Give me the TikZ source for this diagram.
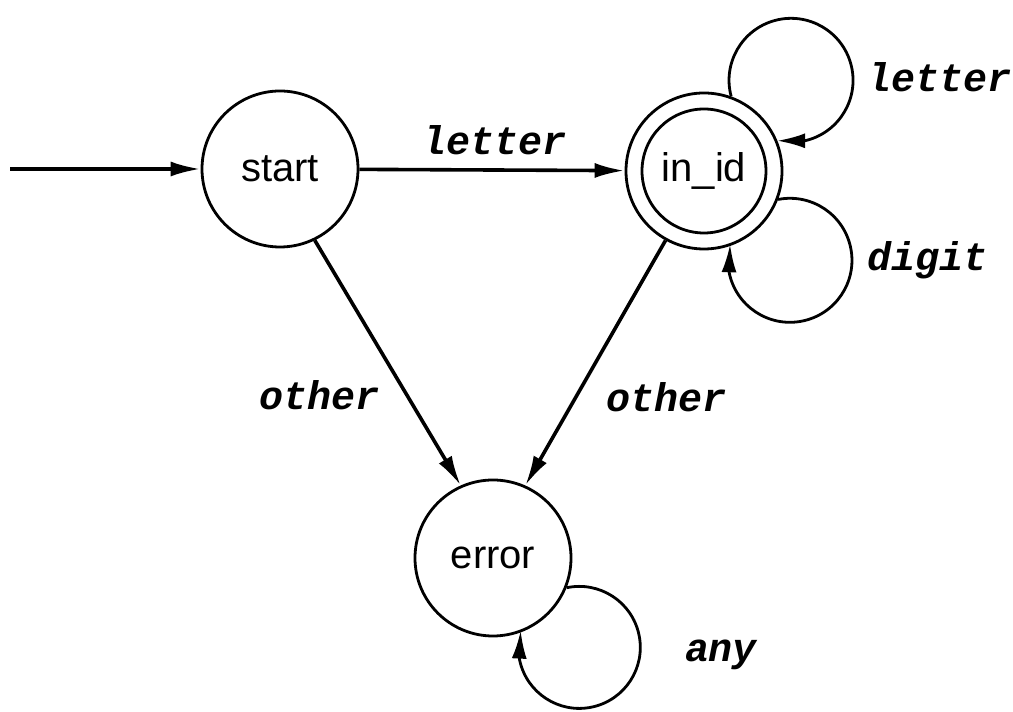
\documentclass[tikz,border=0pt]{standalone}
\usepackage{fontspec}
\setmainfont{Liberation Sans}
\newfontfamily\lblfont{Liberation Mono}
\usetikzlibrary{arrows.meta,bending}
\begin{document}
\begin{tikzpicture}[x=1pt,y=1pt,
  state/.style={circle, draw, line width=2.8pt, minimum size=156pt, inner sep=0pt, font=\fontsize{40}{48}\selectfont},
  inner ring/.style={circle, draw, line width=2.8pt, minimum size=124pt, inner sep=0pt},
  edge/.style={line width=3.6pt, -{Latex[length=30pt,width=15pt]}},
  selfloop/.style={line width=2.8pt, -{Latex[length=28pt,width=15pt,flex]}},
  lbl/.style={font=\lblfont\bfseries\itshape\fontsize{40}{48}\selectfont, anchor=base, inner sep=0pt}]
\useasboundingbox (0,0) rectangle (1013,712);
\node[state] (start) at (280,543) {start};
\node[state] (inid) at (704,541) {in\_id};
\node[inner ring] (inidin) at (inid.center) {};
\node[state] (error) at (493,154) {error};
\coordinate (init) at (10,543);
\draw[edge] (init) -- (start);
\draw[edge] (start) -- (inid);
\draw[edge] (start.-64) -- (error.114);
\draw[edge] (inid.-119) -- (error.66);
\draw[selfloop] (inid.70) arc[start angle=195, end angle=-103, radius=62];
\draw[selfloop] (inid.-21) arc[start angle=101, end angle=-195, radius=62];
\draw[selfloop] (error.-22) arc[start angle=102, end angle=-196, radius=61];
\node[lbl] (l1) at (495,557) {letter};
\node[lbl] (l2) at (940,620) {letter};
\node[lbl] (l3) at (928,441) {digit};
\node[lbl] (l4) at (320,302) {other};
\node[lbl] (l5) at (667,300) {other};
\node[lbl] (l6) at (721,50) {any};
\end{tikzpicture}
\end{document}
